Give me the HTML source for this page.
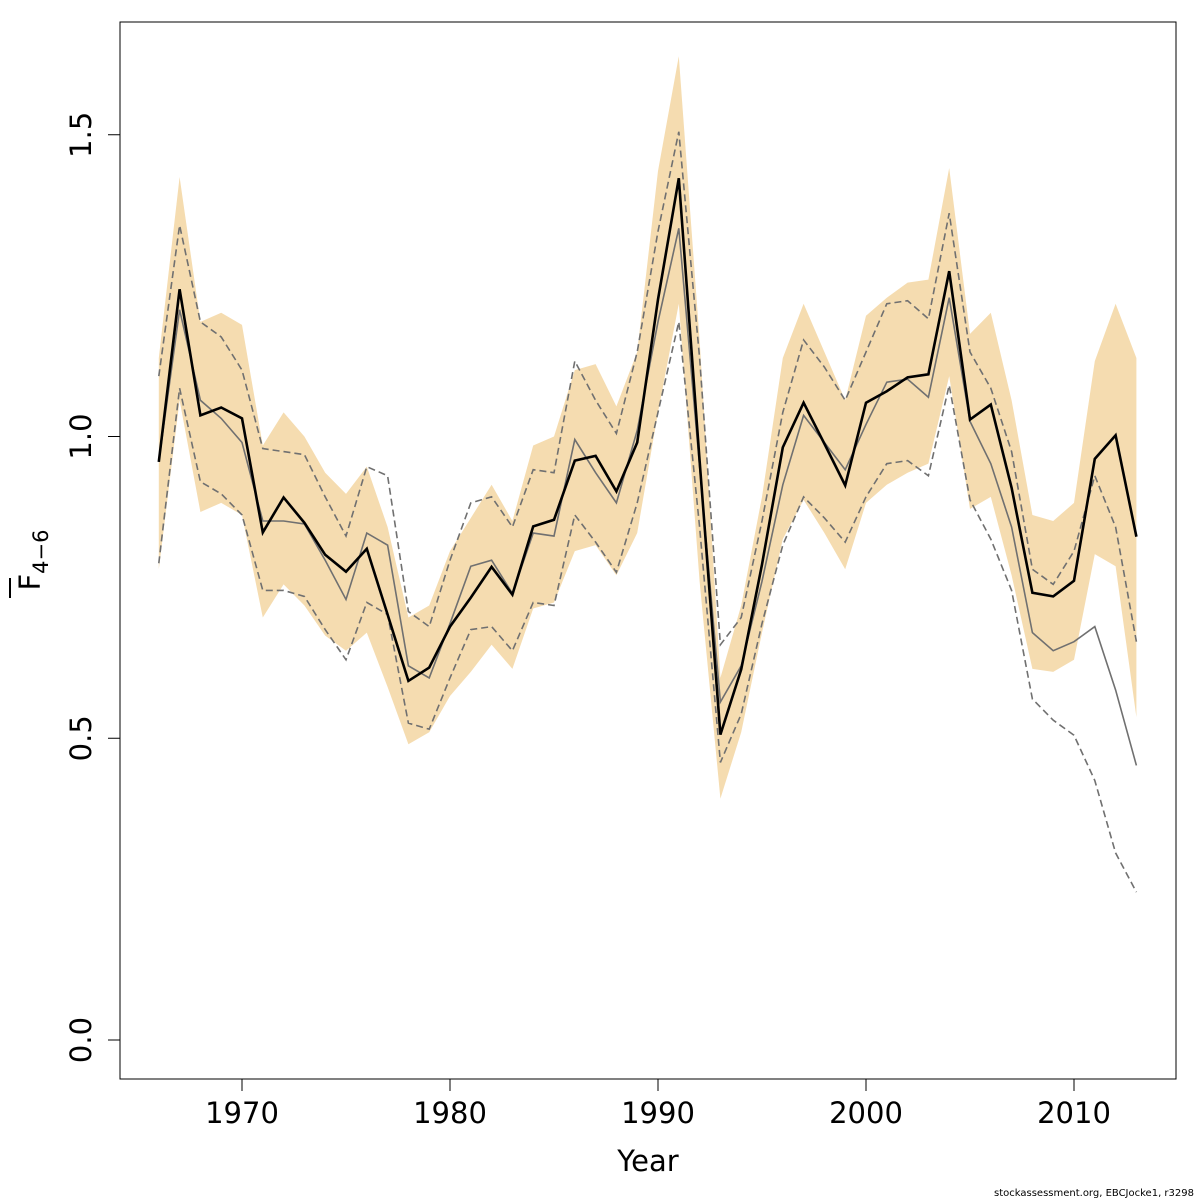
<!DOCTYPE html>
<html><head><meta charset="utf-8"><style>
body{margin:0;background:#fff;}
svg{display:block;font-family:"DejaVu Sans","Liberation Sans",sans-serif;}
</style></head><body>
<svg id="chart" width="1200" height="1200" viewBox="0 0 1200 1200">
<rect x="0" y="0" width="1200" height="1200" fill="#fff"/>
<g id="band"></g>
<g id="lines"></g>
<rect x="120" y="22" width="1056" height="1057" fill="none" stroke="#000" stroke-width="1"/>
<g id="xaxis"></g>
<g id="yaxis"></g>
<text x="648" y="1171" font-size="29" text-anchor="middle">Year</text>
<g transform="translate(40,560) rotate(-90)">
<text x="0" y="0" font-size="29" text-anchor="middle">F<tspan font-size="21" dy="8">4−6</tspan></text>
<line x1="-38" y1="-30" x2="-18" y2="-30" stroke="#000" stroke-width="2"/>
</g>
<text x="1194" y="1196" font-size="10" text-anchor="end">stockassessment.org, EBCJocke1, r3298</text>
</svg>
<script>
const years=[];for(let y=1966;y<=2013;y++)years.push(y);
const estimate=[0.958,1.244,1.035,1.048,1.03,0.841,0.899,0.857,0.804,0.776,0.814,0.705,0.595,0.617,0.685,0.733,0.784,0.738,0.851,0.862,0.96,0.968,0.909,0.99,1.227,1.428,0.96,0.506,0.614,0.788,0.982,1.056,0.988,0.919,1.056,1.075,1.098,1.103,1.274,1.028,1.053,0.915,0.741,0.735,0.761,0.963,1.002,0.834];
const bandUpper=[1.13,1.43,1.19,1.205,1.185,0.985,1.04,1.0,0.94,0.905,0.95,0.85,0.7,0.72,0.81,0.865,0.92,0.86,0.985,1.0,1.11,1.12,1.05,1.14,1.44,1.63,1.16,0.6,0.72,0.9,1.13,1.22,1.14,1.06,1.2,1.23,1.255,1.26,1.445,1.17,1.205,1.06,0.87,0.86,0.89,1.125,1.22,1.13];
const bandLower=[0.78,1.06,0.875,0.89,0.87,0.7,0.755,0.72,0.67,0.645,0.675,0.585,0.49,0.51,0.57,0.61,0.655,0.615,0.715,0.725,0.81,0.82,0.77,0.84,1.04,1.22,0.76,0.4,0.51,0.675,0.83,0.895,0.84,0.78,0.89,0.92,0.94,0.955,1.1,0.88,0.9,0.77,0.615,0.61,0.63,0.805,0.785,0.535];
const altEstimate=[0.958,1.21,1.06,1.03,0.99,0.86,0.86,0.855,0.795,0.73,0.84,0.82,0.62,0.6,0.69,0.785,0.795,0.74,0.84,0.835,0.995,0.94,0.89,1.01,1.19,1.345,0.95,0.56,0.62,0.76,0.92,1.035,0.99,0.945,1.02,1.09,1.095,1.065,1.23,1.025,0.955,0.85,0.675,0.645,0.66,0.685,0.58,0.455];
const altUpper=[1.1,1.35,1.19,1.165,1.11,0.98,0.975,0.97,0.9,0.835,0.95,0.935,0.71,0.685,0.795,0.89,0.9,0.85,0.945,0.94,1.125,1.06,1.005,1.14,1.34,1.505,1.13,0.655,0.7,0.86,1.04,1.16,1.115,1.06,1.14,1.22,1.225,1.195,1.37,1.14,1.08,0.975,0.78,0.755,0.81,0.935,0.85,0.66];
const altLower=[0.79,1.08,0.925,0.905,0.87,0.745,0.745,0.735,0.68,0.63,0.725,0.705,0.525,0.515,0.6,0.68,0.685,0.645,0.725,0.72,0.87,0.825,0.775,0.89,1.04,1.19,0.85,0.46,0.54,0.69,0.82,0.9,0.865,0.825,0.9,0.955,0.96,0.935,1.085,0.895,0.83,0.745,0.565,0.53,0.505,0.43,0.31,0.245];
const xTicks=[1970,1980,1990,2000,2010];
const yTicks=[0.0,0.5,1.0,1.5];
const yTickLabels=["0.0","0.5","1.0","1.5"];

const NS="http://www.w3.org/2000/svg";
const X=v=>242+(v-1970)*20.8;
const Y=v=>1040-v*603.5;
function mk(tag,attrs,parent){const e=document.createElementNS(NS,tag);for(const k in attrs)e.setAttribute(k,attrs[k]);parent.appendChild(e);return e;}
const band=document.getElementById('band'),lines=document.getElementById('lines');
let pts=years.map((y,i)=>X(y)+','+Y(bandUpper[i]));
for(let i=years.length-1;i>=0;i--)pts.push(X(years[i])+','+Y(bandLower[i]));
const poly=mk('polygon',{points:pts.join(' '),fill:'#f5dcb0',stroke:'none'},band);


function line(arr,attrs,name){const p=mk('polyline',Object.assign({points:years.map((y,i)=>X(y)+','+Y(arr[i])).join(' '),fill:'none'},attrs),lines);

}
line(altUpper,{stroke:'#707070','stroke-width':1.6,'stroke-dasharray':'7,4'},'alt-upper-dashed');
line(altLower,{stroke:'#707070','stroke-width':1.6,'stroke-dasharray':'7,4'},'alt-lower-dashed');
line(altEstimate,{stroke:'#707070','stroke-width':1.6},'alt-estimate-line');
line(estimate,{stroke:'#000','stroke-width':2.6},'estimate-line');
const xa=document.getElementById('xaxis');
xTicks.forEach(t=>{const l=mk('line',{x1:X(t),x2:X(t),y1:1079,y2:1091,stroke:'#000'},xa);


const tx=mk('text',{x:X(t),y:1123,'font-size':29,'text-anchor':'middle'},xa);tx.textContent=t;

});
const ya=document.getElementById('yaxis');
yTicks.forEach((t,i)=>{const l=mk('line',{x1:108,x2:120,y1:Y(t),y2:Y(t),stroke:'#000'},ya);


const tx=mk('text',{x:0,y:0,'font-size':29,'text-anchor':'middle',transform:`translate(91,${Y(t)}) rotate(-90)`},ya);tx.textContent=yTickLabels[i];

});
</script>
</body></html>
